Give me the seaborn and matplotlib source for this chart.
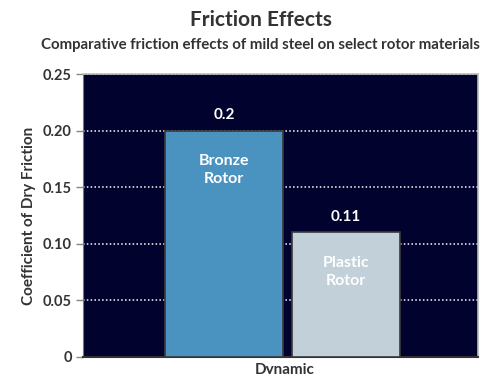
import matplotlib
matplotlib.use("Agg")
import matplotlib.pyplot as plt
import seaborn as sns
import pandas as pd

categories = ["Dynamic"]
materials = ["Bronze Rotor", "Plastic Rotor"]
values = [0.2, 0.11]
value_labels = ["0.2", "0.11"]
yticks = [0, 0.05, 0.10, 0.15, 0.20, 0.25]
ytick_labels = ["0", "0.05", "0.10", "0.15", "0.20", "0.25"]

df = pd.DataFrame({"type": categories * 2, "material": materials, "value": values})

sns.set_style("white")
plt.rcParams["font.family"] = ["Lato", "DejaVu Sans"]

fig = plt.figure(figsize=(4.98, 3.74), dpi=100)
ax = fig.add_axes([83 / 498, 1 - 357 / 374, (478 - 83) / 498, (357 - 74) / 374])
ax.set_facecolor("#02022e")

colors = ["#4a93c0", "#c2d0da"]
sns.barplot(data=df, x="type", y="value", hue="material", palette=colors,
            width=0.8, gap=0.025, edgecolor="#3a3a3a", linewidth=1.2,
            legend=False, ax=ax, zorder=3, saturation=1)

# plastic bar slightly narrower, kept centered
patches = [p for p in ax.patches if p.get_height() > 0]
patches.sort(key=lambda p: p.get_x())
p2 = patches[1]
c2 = p2.get_x() + p2.get_width() / 2
w2 = p2.get_width() * 0.91
p2.set_width(w2)
p2.set_x(c2 - w2 / 2)

for p, lab, mat in zip(patches, value_labels, materials):
    cx = p.get_x() + p.get_width() / 2
    h = p.get_height()
    ax.annotate(lab, (cx, h), xytext=(0, 6), textcoords="offset points",
                ha="center", va="bottom", color="white", fontsize=11,
                fontweight="bold", zorder=5)
    ax.annotate(mat.replace(" ", "\n"), (cx, h), xytext=(0, -17), textcoords="offset points",
                ha="center", va="top", color="white", fontsize=11.5,
                fontweight="bold", linespacing=1.35, zorder=5)

ax.set_ylim(0, 0.25)
ax.set_xlim(-0.664, 0.635)
ax.set_yticks(yticks)
ax.set_yticklabels(ytick_labels, fontsize=10.5, fontweight="bold", color="#333333")
ax.yaxis.grid(True, color="white", linestyle=(0, (1, 1.5)), linewidth=1.1, zorder=1)
ax.tick_params(axis="y", left=True, length=5, width=1, color="#888888", pad=3)
ax.tick_params(axis="x", bottom=False, labelsize=11, colors="#333333", pad=1)
for t in ax.get_xticklabels():
    t.set_fontweight("bold")
ax.set_xlabel("")
ax.set_ylabel("Coefficient of Dry Friction", fontsize=11, fontweight="bold", color="#333333", labelpad=5)

for side in ["top", "right"]:
    ax.spines[side].set_color("#bbbbbb")
    ax.spines[side].set_linewidth(1.2)
ax.spines["left"].set_color("#777777")
ax.spines["bottom"].set_color("#333333")
ax.spines["bottom"].set_linewidth(1.5)

fig.text(261 / 498, 1 - 20 / 374, "Friction Effects", ha="center", va="center",
         fontsize=15, fontweight="bold", color="#333333")
fig.text(260 / 498, 1 - 45 / 374, "Comparative friction effects of mild steel on select rotor materials",
         ha="center", va="center", fontsize=10.8, fontweight="bold", color="#333333")

fig.savefig("out.png", dpi=100)
